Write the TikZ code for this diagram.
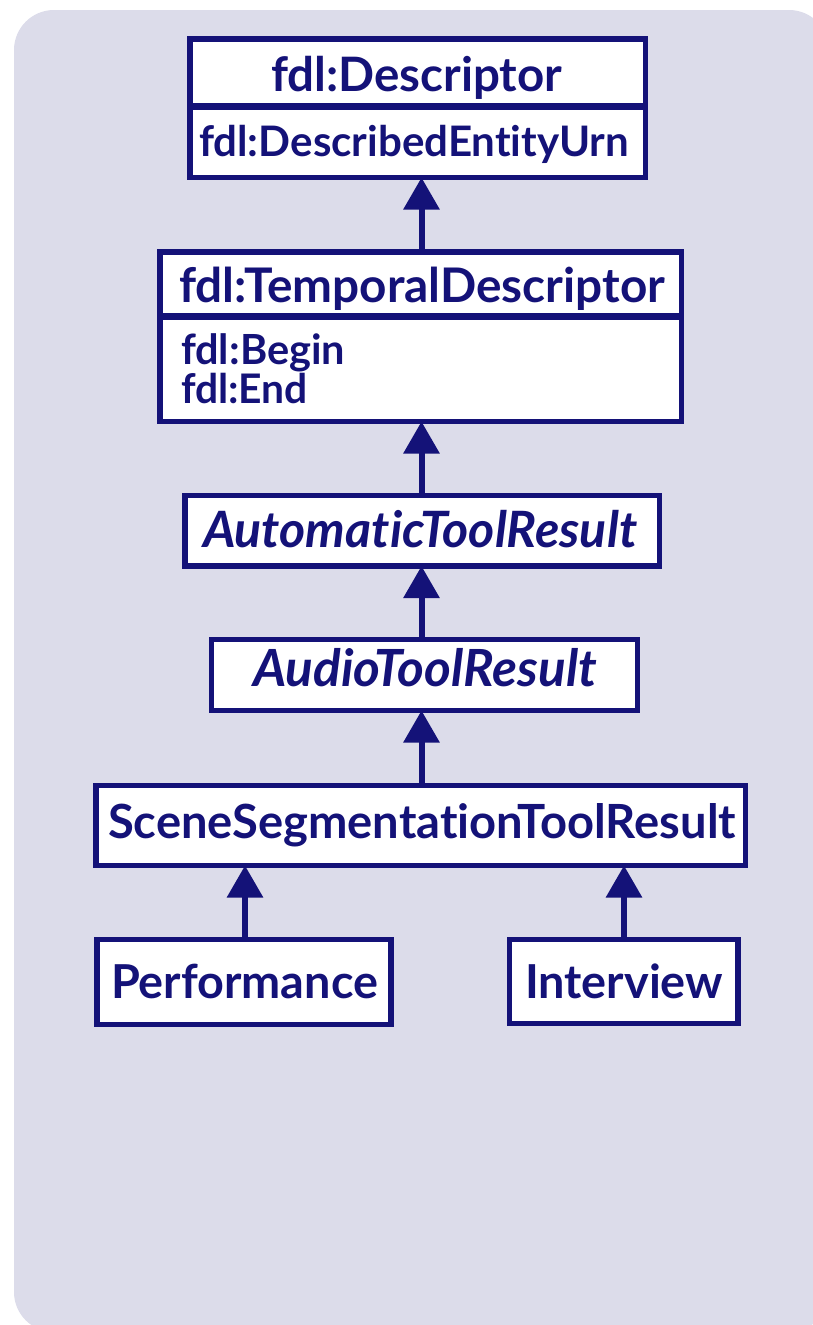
\documentclass[tikz,border=0pt]{standalone}
\usepackage{fontspec}
\setmainfont{Lato}[Ligatures={NoCommon}]
\usetikzlibrary{arrows.meta}
\definecolor{umlnavy}{RGB}{20,18,120}
\definecolor{panel}{RGB}{220,220,234}
% scale a label to a given width
\newcommand{\fitto}[2]{\resizebox{#1pt}{!}{\bfseries #2}}
\newcommand{\fititto}[2]{\resizebox{#1pt}{!}{\bfseries\itshape #2}}
\tikzset{
  umlbox/.style={draw=umlnavy, fill=white, line width=5.5pt, inner sep=0pt, outer sep=0pt},
  umltext/.style={text=umlnavy, inner sep=0pt, outer sep=0pt, anchor=base west},
  divider/.style={draw=umlnavy, line width=6.5pt},
  inherit/.style={draw=umlnavy, line width=6pt, -{Triangle[width=35pt,length=32pt]}},
}
\begin{document}
\begin{tikzpicture}[x=1pt,y=-1pt]
\useasboundingbox (0,0) rectangle (812,1325);
% panel behind the class diagram
\fill[panel, rounded corners=40pt] (14,10) rectangle (829,1332);

% class boxes
\node[umlbox, minimum width=455.5pt, minimum height=138.5pt] (desc) at (417.75,108.25) {};
\node[umlbox, minimum width=521.5pt, minimum height=169.5pt] (temp) at (420.75,336.75) {};
\node[umlbox, minimum width=474.5pt, minimum height=70.5pt] (auto) at (422.25,530.75) {};
\node[umlbox, minimum width=426pt, minimum height=71pt] (audio) at (424.5,675) {};
\node[umlbox, minimum width=649.5pt, minimum height=80pt] (scene) at (420.75,825.5) {};
\node[umlbox, minimum width=294pt, minimum height=85pt] (perf) at (244,982) {};
\node[umlbox, minimum width=228.5pt, minimum height=84pt] (inter) at (623.75,981.5) {};

% compartment dividers
\draw[divider] (desc.west |- 0,106.3) -- (desc.east |- 0,106.3);
\draw[divider] (temp.west |- 0,316.5) -- (temp.east |- 0,316.5);

% labels
\node[umltext] (descname) at (271,91.7) {\fitto{291}{fdl:Descriptor}};
\node[umltext] (descattr) at (199,156) {\fitto{430}{fdl:DescribedEntityUrn}};
\node[umltext] (tempname) at (179,302) {\fitto{486}{fdl:TemporalDescriptor}};
\node[umltext] (tempbegin) at (181,364) {\fitto{164}{fdl:Begin}};
\node[umltext] (tempend) at (181,403) {\fitto{127}{fdl:End}};
\node[umltext] (autoname) at (203,547) {\fititto{434}{AutomaticToolResult}};
\node[umltext] (audioname) at (253,686) {\fititto{344}{AudioToolResult}};
\node[umltext] (scenename) at (108,838) {\fitto{628}{SceneSegmentationToolResult}};
\node[umltext] (perfname) at (111,998) {\fitto{267}{Performance}};
\node[umltext] (intername) at (525,998) {\fitto{198}{Interview}};

% generalisation arrows
\coordinate (axis) at (421.5,0);
\draw[inherit] (temp.north -| axis) -- (desc.south -| axis);
\draw[inherit] (auto.north -| axis) -- (temp.south -| axis);
\draw[inherit] (audio.north -| axis) -- (auto.south -| axis);
\draw[inherit] (scene.north -| axis) -- (audio.south -| axis);
\draw[inherit] (perf.north -| 245,0) -- (scene.south -| 245,0);
\draw[inherit] (inter.north -| 624,0) -- (scene.south -| 624,0);
\end{tikzpicture}
\end{document}
